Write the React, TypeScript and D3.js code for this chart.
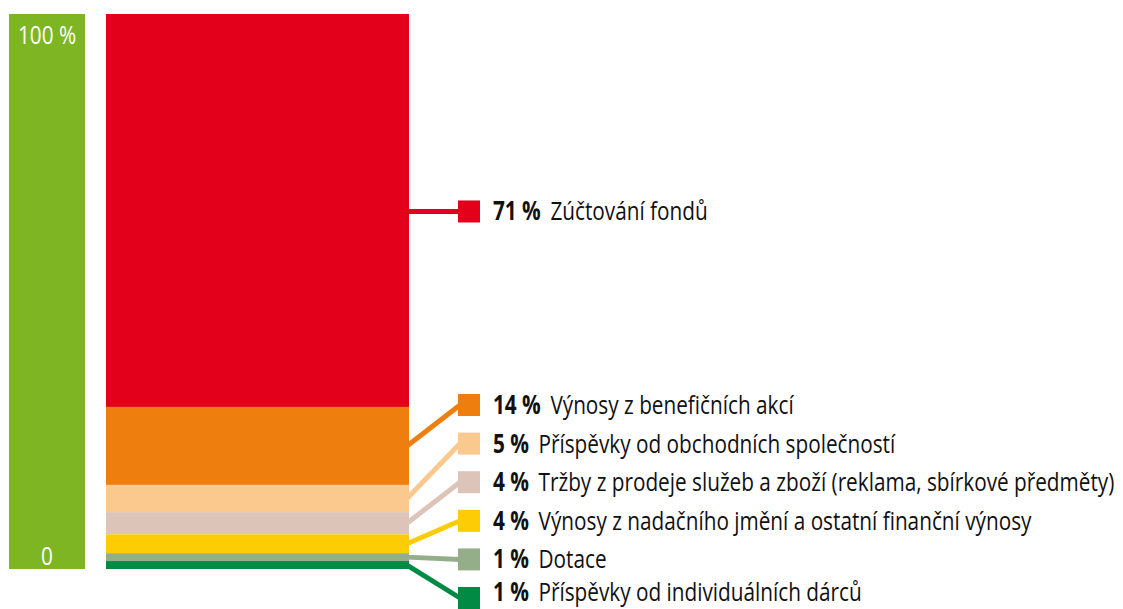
import React, { useRef, useEffect } from "react";
import * as d3 from "d3";

// shares, top segment first
const categories = [
  "Zúčtování fondů",
  "Výnosy z benefičních akcí",
  "Příspěvky od obchodních společností",
  "Tržby z prodeje služeb a zboží (reklama, sbírkové předměty)",
  "Výnosy z nadačního jmění a ostatní finanční výnosy",
  "Dotace",
  "Příspěvky od individuálních dárců",
];
const shares = [70.8, 14.05, 4.9, 4.0, 3.4, 1.42, 1.43];
const percentLabels = ["71 %", "14 %", "5 %", "4 %", "4 %", "1 %", "1 %"];
const colors = ["#e2001a", "#ee7f0e", "#fbc98e", "#dcc4b9", "#fdcc05", "#94ae8a", "#008a44"];
const axisTicks = [
  { value: 100, label: "100 %" },
  { value: 0, label: "0" },
];

const W = 1123;
const H = 609;
const FONT = "'Open Sans', 'Liberation Sans', sans-serif";

const App = () => {
  const svgRef = useRef<SVGSVGElement>(null);

  useEffect(() => {
    const svg = d3.select(svgRef.current);
    svg.selectAll("*").remove();

    const top = 14;
    const bottom = 569;
    const y = d3.scaleLinear().domain([0, 100]).range([bottom, top]);

    // axis strip on the left
    svg
      .append("rect")
      .attr("x", 9)
      .attr("y", y(100))
      .attr("width", 76)
      .attr("height", y(0) - y(100))
      .attr("fill", "#7db622");

    const ticks = svg
      .selectAll(".tick")
      .data(axisTicks)
      .enter()
      .append("text")
      .attr("text-anchor", "middle")
      .attr("fill", "white")
      .style("font-family", FONT)
      .style("font-size", "26px")
      .text((d) => d.label);

    // stacked segments, first category on top
    let acc = 100;
    const segs = shares.map((s, i) => {
      const hi = acc;
      acc -= s;
      return { i, hi, lo: acc };
    });

    const barX = 106;
    const barW = 303;
    svg
      .selectAll(".seg")
      .data(segs)
      .enter()
      .append("rect")
      .attr("x", barX)
      .attr("y", (d) => y(d.hi))
      .attr("width", barW)
      .attr("height", (d) => y(d.lo) - y(d.hi))
      .attr("fill", (d) => colors[d.i]);

    // legend rows: first next to its segment, rest evenly spaced
    const rowY = d3
      .scalePoint()
      .domain(d3.range(1, categories.length).map(String))
      .range([405, 598]);
    const legendY = (i: number) =>
      i === 0 ? (y(segs[0].hi) + y(segs[0].lo)) / 2 + 1 : rowY(String(i))!;

    const sqX = 458;
    const sqS = 22;

    const g = svg.selectAll(".leg").data(segs).enter().append("g");

    g.append("line")
      .attr("x1", barX + barW - 2)
      .attr("y1", (d) => (d.i === 0 ? legendY(0) : (y(d.hi) + y(d.lo)) / 2))
      .attr("x2", sqX + 2)
      .attr("y2", (d) => legendY(d.i))
      .attr("stroke", (d) => colors[d.i])
      .attr("stroke-width", 5);

    g.append("rect")
      .attr("x", sqX)
      .attr("y", (d) => legendY(d.i) - sqS / 2)
      .attr("width", sqS)
      .attr("height", sqS)
      .attr("fill", (d) => colors[d.i]);

    const txt = g
      .append("text")
      .attr("x", 0)
      .attr("y", 0)
      .attr("fill", "#111")
      .style("font-family", FONT)
      .style("font-size", "26px");

    txt
      .append("tspan")
      .style("font-weight", "bold")
      .text((d) => percentLabels[d.i]);
    txt
      .append("tspan")
      .attr("dx", 12)
      .text((d) => categories[d.i]);

    // condense the text horizontally so the longest row fits like in the original
    const longest = txt.nodes()[3] as SVGTextElement;
    const k = 612 / longest.getComputedTextLength();

    txt.attr(
      "transform",
      (d) => `translate(493,${Math.min(legendY(d.i) + 9, 601)}) scale(${k},1)`
    );
    ticks.attr(
      "transform",
      (d) => `translate(47,${d.value === 100 ? y(d.value) + 30 : y(d.value) - 4}) scale(${k},1)`
    );
  }, []);

  return (
    <svg
      ref={svgRef}
      width={W}
      height={H}
      style={{ position: "absolute", left: 0, top: 0, background: "white" }}
    ></svg>
  );
};

export default App;
